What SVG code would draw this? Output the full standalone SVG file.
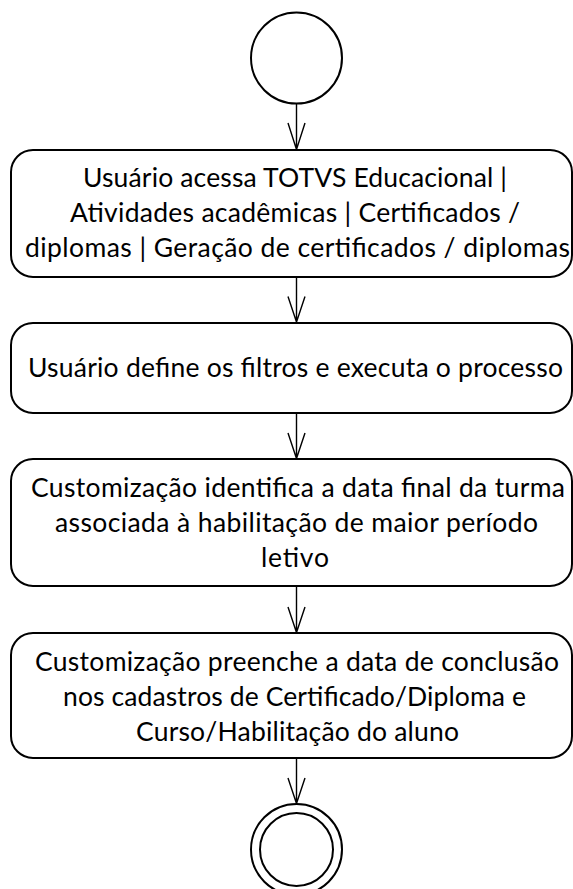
<svg xmlns="http://www.w3.org/2000/svg" width="573" height="889" viewBox="0 0 573 889">
<style>
.box{fill:#fff;stroke:#000;stroke-width:2}
.node{fill:#fff;stroke:#000;stroke-width:2}
.edge{fill:none;stroke:#000;stroke-width:1.4}
text{font-family:Lato,"Liberation Sans",sans-serif;font-size:26.5px;fill:#000;text-anchor:middle}
</style>
<rect width="573" height="889" fill="#fff"/>
<g id="connectors">
<path class="edge" d="M296.5 103.5V150M288 123L296.5 149.5L305 123"/>
<path class="edge" d="M296.5 277V322.5M288 296.5L296.5 322L305 296.5"/>
<path class="edge" d="M296.5 413V459M288 433L296.5 458.5L305 433"/>
<path class="edge" d="M296.5 586V633M288 607L296.5 632.5L305 607"/>
<path class="edge" d="M296.5 758V804M288 778L296.5 803.5L305 778"/>
</g>
<g id="start"><circle class="node" cx="296.5" cy="58" r="45.5"/></g>
<g id="step1">
<rect class="box" x="11" y="150" width="561" height="127" rx="22"/>
<text x="295" y="187" textLength="424">Usuário acessa TOTVS Educacional |</text>
<text x="295" y="222" textLength="450">Atividades acadêmicas | Certificados /</text>
<text x="297.5" y="257" textLength="545">diplomas | Geração de certificados / diplomas</text>
</g>
<g id="step2">
<rect class="box" x="11" y="323" width="561" height="90" rx="22"/>
<text x="295.5" y="377" textLength="535">Usuário define os filtros e executa o processo</text>
</g>
<g id="step3">
<rect class="box" x="11" y="459" width="561" height="127" rx="22"/>
<text x="298" y="497" textLength="534">Customização identifica a data final da turma</text>
<text x="296.5" y="532" textLength="483">associada à habilitação de maior período</text>
<text x="295" y="567" textLength="68">letivo</text>
</g>
<g id="step4">
<rect class="box" x="11" y="633" width="561" height="125" rx="22"/>
<text x="297" y="671" textLength="524">Customização preenche a data de conclusão</text>
<text x="294.5" y="706" textLength="463">nos cadastros de Certificado/Diploma e</text>
<text x="297.5" y="741" textLength="323">Curso/Habilitação do aluno</text>
</g>
<g id="end">
<circle class="node" cx="296.5" cy="849.5" r="45.5"/>
<circle class="node" cx="296.5" cy="849.5" r="36.5"/>
</g>
</svg>
